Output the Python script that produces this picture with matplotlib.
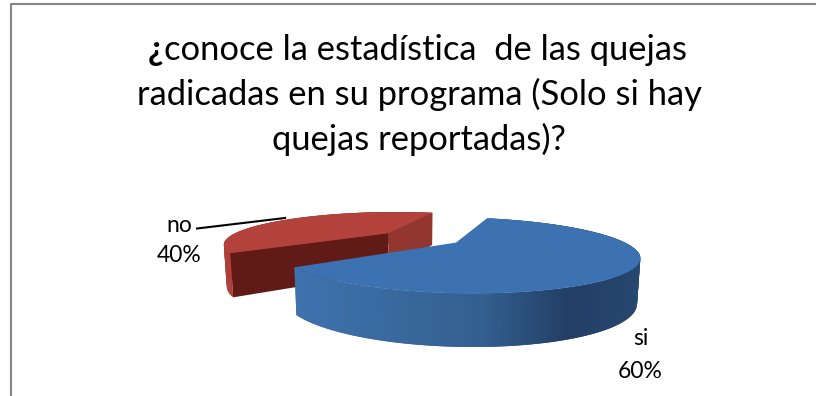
import numpy as np
import matplotlib
matplotlib.use('Agg')
import matplotlib.pyplot as plt
from matplotlib.colors import to_rgb

# survey answers
labels = ['si', 'no']
shares = [60, 40]
title_lines = ['conoce la estadística  de las quejas',
               'radicadas en su programa (Solo si hay',
               'quejas reportadas)?']

# projection of the tilted pie, everything below is in pixels of the figure
x0, y0 = 420.5, 237.7
scale_x, scale_y = 160.6, 30.5
persp = 0.32
explode = 0.26
start_angle = 72.0
thick = 40.0


def project(X, Y):
    w = 1 + persp * Y
    return x0 + scale_x * X / w, y0 - scale_y * Y / w


def lower(px, py, Y):
    # bottom rim of the disc, slightly narrower because we look from above
    return x0 + (px - x0) * 0.985, py + thick / (1 + 0.22 * Y)


def mix(c1, c2, t):
    c1, c2 = np.array(to_rgb(c1)), np.array(to_rgb(c2))
    return tuple(c1 + (c2 - c1) * t)


def ramp(stops, t):
    # stops is a list of (position, colour)
    for (p1, c1), (p2, c2) in zip(stops[:-1], stops[1:]):
        if t <= p2:
            return mix(c1, c2, (t - p1) / (p2 - p1))
    return to_rgb(stops[-1][1])


def draw_slice(ax, a1, a2, top_color, side_stops, z, face_a1=None, face_a2=None):
    # a1 > a2, slice runs clockwise from a1 to a2
    mid = np.radians((a1 + a2) / 2)
    cx, cy = explode * np.cos(mid), explode * np.sin(mid)
    ang = np.radians(np.linspace(a1, a2, 161))
    X = cx + np.cos(ang)
    Y = cy + np.sin(ang)
    px, py = project(X, Y)
    bx, by = lower(px, py, Y)
    apx, apy = project(cx, cy)
    abx, aby = lower(apx, apy, cy)
    n = len(ang)
    tpos = np.clip((px - px.min()) / (px.max() - px.min()), 0, 1)

    # outer wall, quads overlap one step so no seams show
    for i in range(n - 1):
        j = min(i + 2, n - 1)
        ax.fill([px[i], px[j], bx[j], bx[i]], [py[i], py[j], by[j], by[i]],
                color=ramp(side_stops, tpos[i]), lw=0, zorder=z)

    # cut faces
    if face_a1 is not None:
        ax.fill([apx, px[0], bx[0], abx], [apy, py[0], by[0], aby],
                color=face_a1, lw=0, zorder=z + 1)
    if face_a2 is not None:
        ax.fill([apx, px[-1], bx[-1], abx], [apy, py[-1], by[-1], aby],
                color=face_a2, lw=0, zorder=z + 1)

    # top surface
    ax.fill(np.r_[apx, px], np.r_[apy, py], color=top_color, lw=0, zorder=z + 2)


fig = plt.figure(figsize=(8.16, 3.96), dpi=100)
ax = fig.add_axes([0, 0, 1, 1])
ax.set_xlim(0, 816)
ax.set_ylim(396, 0)
ax.axis('off')

# chart frame, only the left and top edges are on the page
ax.plot([10.5, 10.5, 816], [396, 4, 4], color='#868686', lw=1.5, zorder=1)

sweep = [360 * s / sum(shares) for s in shares]
si_a1, si_a2 = start_angle, start_angle - sweep[0]
no_a1, no_a2 = start_angle + sweep[1], start_angle

# red slice is further back so it goes first
draw_slice(ax, no_a1, no_a2, '#B3423C',
           [(0, '#AE3E38'), (1, '#8E302B')],
           z=2, face_a1='#611B17', face_a2='#943630')
draw_slice(ax, si_a1, si_a2, '#3C72B1',
           [(0, '#3F72AE'), (0.55, '#33608F'), (0.8, '#223F66'), (1, '#27476F')],
           z=10)

# leader line of the "no" label
ax.plot([197, 285], [228.5, 218], color='black', lw=1.5, zorder=30)

font = 'Lato'
tfs = 24.8
lfs = 16.5
tc = '#000000'
ax.text(179, 232, labels[1], ha='center', va='baseline', fontsize=lfs, family=font, color=tc)
ax.text(179, 262, f'{shares[1]}%', ha='center', va='baseline', fontsize=lfs, family=font, color=tc)
ax.text(641, 345, labels[0], ha='center', va='baseline', fontsize=lfs, family=font, color=tc)
ax.text(640, 378, f'{shares[0]}%', ha='center', va='baseline', fontsize=lfs, family=font, color=tc)

# title, the opening sign is bold so it is a text of its own
title_x = 419
line_y = [60, 105, 150]
t1 = ax.text(title_x + 7, line_y[0], title_lines[0], ha='center', va='baseline',
             fontsize=tfs, family=font, color=tc)
ax.text(title_x, line_y[1], title_lines[1], ha='center', va='baseline', fontsize=tfs, family=font, color=tc)
ax.text(title_x, line_y[2], title_lines[2], ha='center', va='baseline', fontsize=tfs, family=font, color=tc)
fig.canvas.draw()
bb = t1.get_window_extent()
ax.text(bb.x0 - 1, line_y[0], '¿', ha='right', va='baseline', fontsize=tfs,
        fontweight='bold', family=font, color=tc)

plt.savefig('out.png', dpi=100, facecolor='white')
plt.close(fig)
